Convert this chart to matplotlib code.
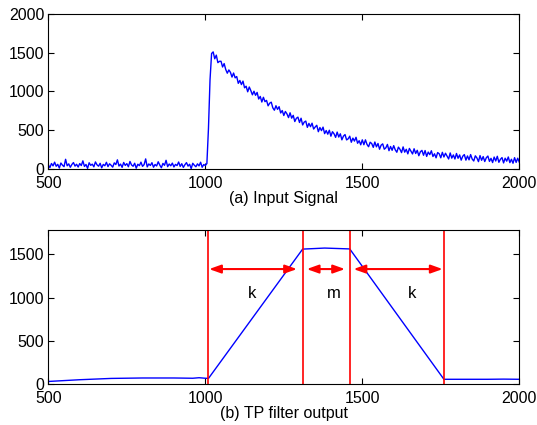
import matplotlib
matplotlib.use('Agg')
import matplotlib.pyplot as plt
import numpy as np

plt.rcParams['font.family'] = ['Liberation Sans', 'DejaVu Sans']

# (a) input signal, one value every 5 samples from 500 to 2000
sig_start = 500
sig_step = 5
signal = [
    52, 18, 71, 40, 88, 35, 60, 12, 77, 49, 30, 125, 41, 66, 22, 58, 83, 37, 61, 25,
    70, 44, 105, 33, 58, 8, 80, 47, 62, 28, 91, 54, 36, 73, 15, 59, 42, 86, 31, 67,
    48, 24, 79, 57, 118, 38, 63, 21, 84, 46, 69, 29, 97, 52, 35, 74, 10, 61, 43, 88,
    34, 56, 130, 27, 65, 45, 81, 23, 58, 39, 93, 50, 16, 72, 47, 112, 30, 64, 41, 76,
    26, 59, 44, 90, 33, 68, 20, 55, 82, 37, 61, 5, 74, 48, 29, 66, 40, 87, 22, 57,
    45, 70, 520, 1150,
    1490, 1511, 1422, 1469, 1372, 1389, 1390, 1316, 1360, 1284, 1236, 1278, 1247, 1186, 1238, 1176,
    1193, 1105, 1142, 1089, 1134, 1047, 1068, 996, 1058, 1011, 957, 1003, 951, 988, 903, 936, 864, 925, 869, 885,
    815, 849, 862, 789, 758, 816, 769, 804, 723, 754, 690, 742, 711, 663, 725, 656, 692, 612, 654, 669,
    600, 655, 568, 605, 618, 537, 588, 546, 591, 515, 542, 564, 481, 535, 495, 540, 456, 496, 449, 500,
    423, 481, 454, 408, 476, 412, 454, 376, 424, 444, 375, 389, 423, 345, 398, 360, 409, 332, 365, 312,
    376, 313, 376, 317, 287, 345, 328, 279, 348, 286, 329, 255, 308, 324, 255, 273, 317, 236, 290, 241,
    301, 247, 216, 282, 254, 211, 285, 217, 254, 195, 265, 229, 194, 261, 200, 241, 171, 222, 240, 177,
    238, 162, 218, 185, 235, 161, 196, 144, 212, 196, 144, 215, 155, 203, 166, 129, 207, 140, 181, 129,
    200, 138, 181, 114, 165, 186, 114, 168, 118, 186, 128, 103, 170, 143, 95, 173, 112, 160, 96, 145,
    167, 98, 137, 83, 154, 103, 164, 86, 125, 147, 78, 139, 101, 155, 82, 125, 74, 146, 85, 139, 87,
]

# (b) trapezoidal filter output
tp_x = [500, 550, 600, 700, 800, 900, 960, 980, 1000, 1010, 1310, 1340, 1380, 1460, 1760, 1800, 1900, 1950, 2000]
tp_y = [35, 45, 55, 70, 75, 75, 72, 78, 72, 70, 1560, 1565, 1572, 1562, 60, 60, 60, 62, 60]

# red markers: trapezoid corners and arrow spans
vlines = [1010, 1310, 1460, 1760]
arrows = [(1012, 1292), (1323, 1445), (1472, 1756)]
arrow_y = 1330
span_labels = ['k', 'm', 'k']
label_x = [1150, 1410, 1657]
label_y = 1050

fig = plt.figure(figsize=(5.37, 4.25), dpi=100)
ax1 = fig.add_axes([0.09, 0.6024, 0.877, 0.3647])
ax2 = fig.add_axes([0.09, 0.0953, 0.877, 0.3635])

x = sig_start + sig_step * np.arange(len(signal))
ax1.plot(x, signal, color='#0000ff', lw=1.0)
ax1.set_xlim(500, 2000)
ax1.set_ylim(0, 2000)
ax1.set_xticks([500, 1000, 1500, 2000])
ax1.set_yticks([0, 500, 1000, 1500, 2000])
ax1.set_xlabel('(a) Input Signal', fontsize=11.5, labelpad=0)

ax2.plot(tp_x, tp_y, color='#0000ff', lw=1.0)
for v in vlines:
    ax2.axvline(v, color='#ff0000', lw=1.2)
for (a, b) in arrows:
    ax2.annotate('', xy=(b, arrow_y), xytext=(a, arrow_y),
                 arrowprops=dict(arrowstyle='<|-|>,head_length=0.7,head_width=0.25',
                                 color='#ff0000', lw=1.5, shrinkA=0, shrinkB=0))
for lab, lx in zip(span_labels, label_x):
    ax2.text(lx, label_y, lab, fontsize=12, ha='center', va='center')
ax2.set_xlim(500, 2000)
ax2.set_ylim(0, 1780)
ax2.set_xticks([500, 1000, 1500, 2000])
ax2.set_yticks([0, 500, 1000, 1500])
ax2.set_xlabel('(b) TP filter output', fontsize=11.5, labelpad=0)

for ax in (ax1, ax2):
    ax.tick_params(direction='in', top=True, right=True, length=4, width=0.8,
                   labelsize=11.5)
    ax.tick_params(axis='x', pad=5)
    ax.tick_params(axis='y', pad=3)
    for s in ax.spines.values():
        s.set_linewidth(0.8)

fig.savefig('out.png', dpi=100)
